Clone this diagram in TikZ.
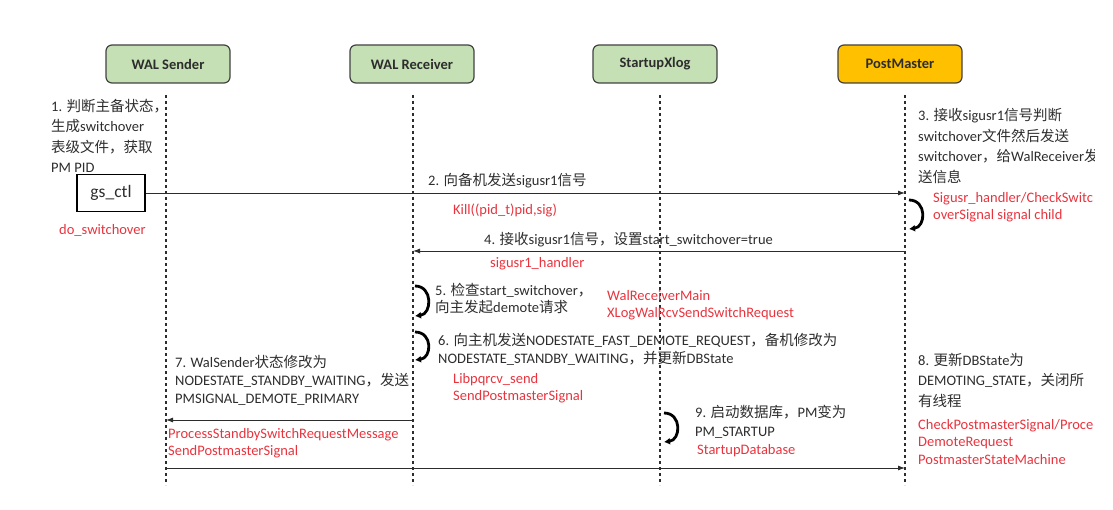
\documentclass[tikz,border=0pt]{standalone}
\usepackage{fontspec}
\setmainfont{Carlito}
\newfontfamily\cjk{Noto Sans CJK SC}
\newcommand\zh[1]{{\cjk #1}}
\usetikzlibrary{arrows.meta}
\definecolor{boxgreen}{RGB}{197,224,180}
\definecolor{pmgold}{RGB}{255,192,0}
\definecolor{ink}{RGB}{45,45,45}
\definecolor{fnred}{RGB}{232,52,62}

\begin{document}
\begin{tikzpicture}[x=1pt, y=-1pt,
  actor/.style={draw=ink!90, line width=1.2pt, rounded corners=6pt, minimum width=124pt, minimum height=38pt, text=ink, font=\fontsize{14.5}{16}\selectfont\bfseries},
  life/.style={ink, line width=1.2pt, dash pattern=on 3pt off 3pt},
  msg/.style={ink, line width=0.9pt, -{Latex[length=7pt,width=5pt]}},
  curl/.style={black, line width=2.8pt, -{Latex[length=6pt,width=7pt]}},
  note/.style={anchor=west, inner sep=0pt, align=left, text=ink, font=\fontsize{14.5}{20.5}\selectfont},
  fn/.style={anchor=west, inner sep=0pt, align=left, text=fnred, font=\fontsize{14.5}{17.5}\selectfont}
]
\useasboundingbox (0,0) rectangle (1113,510);
\clip (0,0) rectangle (1094,510);
\foreach \n/\x/\lx/\name/\col in {snd/168/166/WAL Sender/boxgreen, rcv/412/413/WAL Receiver/boxgreen, xlog/655/660/StartupXlog/boxgreen, pm/900/905/PostMaster/pmgold} {
  \node[actor, fill=\col] (\n) at (\x,64) {\name};
  \coordinate (\n-top) at (\lx,95);
  \coordinate (\n-bot) at (\lx,485);
  \draw[life] (\n-top) -- (\n-bot);
}
\coordinate (y4) at (0,251);
\coordinate (y7) at (0,420);
\coordinate (y8) at (0,468);

\node[note] (step1) at (51,136) {1. \zh{判断主备状态，}\\\zh{生成}switchover\\\zh{表级文件，获取}\\PM PID};
\node[draw=black, line width=1.2pt, minimum width=68pt, minimum height=37pt, text=ink, font=\fontsize{17.5}{19}\selectfont] (gs) at (111,193) {gs\_ctl};
\node[fn] (fn1) at (59,230) {do\_switchover};

\draw[msg] (gs.east) -- (pm-top |- gs.east);
\node[note] (step2) at (428,181) {2. \zh{向备机发送}sigusr1\zh{信号}};
\node[fn] (fn2) at (453,210) {Kill((pid\_t)pid,sig)};

\node[note] (step3) at (918,146) {3. \zh{接收}sigusr1\zh{信号判断}\\switchover\zh{文件然后发送}\\switchover\zh{，给}WalReceiver\zh{发}\\\zh{送信息}};
\node[fn] (fn3) at (933,207) {Sigusr\_handler/CheckSwitc\\overSignal signal child};

\draw[msg] (pm-top |- y4) -- (rcv-top |- y4);
\node[note] (step4) at (484,240) {4. \zh{接收}sigusr1\zh{信号，设置}start\_switchover=true};
\node[fn] (fn4) at (490,264) {sigusr1\_handler};

\node[note, font=\fontsize{14.5}{17}\selectfont] (step5) at (435,298) {5. \zh{检查}start\_switchover\zh{，}\\\zh{向主发起}demote\zh{请求}};
\node[fn] (fn5) at (607,305) {WalReceiverMain\\XLogWalRcvSendSwitchRequest};

\node[note, font=\fontsize{14.5}{18}\selectfont] (step6) at (438,349) {6. \zh{向主机发送}NODESTATE\_FAST\_DEMOTE\_REQUEST\zh{，备机修改为}\\NODESTATE\_STANDBY\_WAITING\zh{，并更新}DBState};
\node[fn] (fn6) at (453,388) {Libpqrcv\_send\\SendPostmasterSignal};

\node[note, font=\fontsize{14.5}{18}\selectfont] (step7) at (175,380) {7. WalSender\zh{状态修改为}\\NODESTATE\_STANDBY\_WAITING\zh{，发送}\\PMSIGNAL\_DEMOTE\_PRIMARY};
\draw[msg] (rcv-top |- y7) -- (snd-top |- y7);
\node[fn] (fn7) at (168,443) {ProcessStandbySwitchRequestMessage\\SendPostmasterSignal};

\node[note, font=\fontsize{14.5}{19}\selectfont] (step9) at (695,422) {9. \zh{启动数据库，}PM\zh{变为}\\PM\_STARTUP};
\node[fn] (fn9) at (697,451) {StartupDatabase};

\draw[msg] (snd-top |- y8) -- (pm-top |- y8);
\node[note] (step8) at (918,380) {8. \zh{更新}DBState\zh{为}\\DEMOTING\_STATE\zh{，关闭所}\\\zh{有线程}};
\node[fn] (fn8) at (918,442) {CheckPostmasterSignal/Proce\\DemoteRequest\\PostmasterStateMachine};

\foreach \i/\x/\ya/\yb in {1/909/200/229, 2/415/286/316, 3/415/332/360, 4/664/413/442} {
  \coordinate (curl\i-a) at (\x,\ya);
  \coordinate (curl\i-b) at (\x,\yb);
  \draw[curl] (curl\i-a) .. controls +(18,0) and +(17,-2) .. (curl\i-b);
}
\end{tikzpicture}
\end{document}
